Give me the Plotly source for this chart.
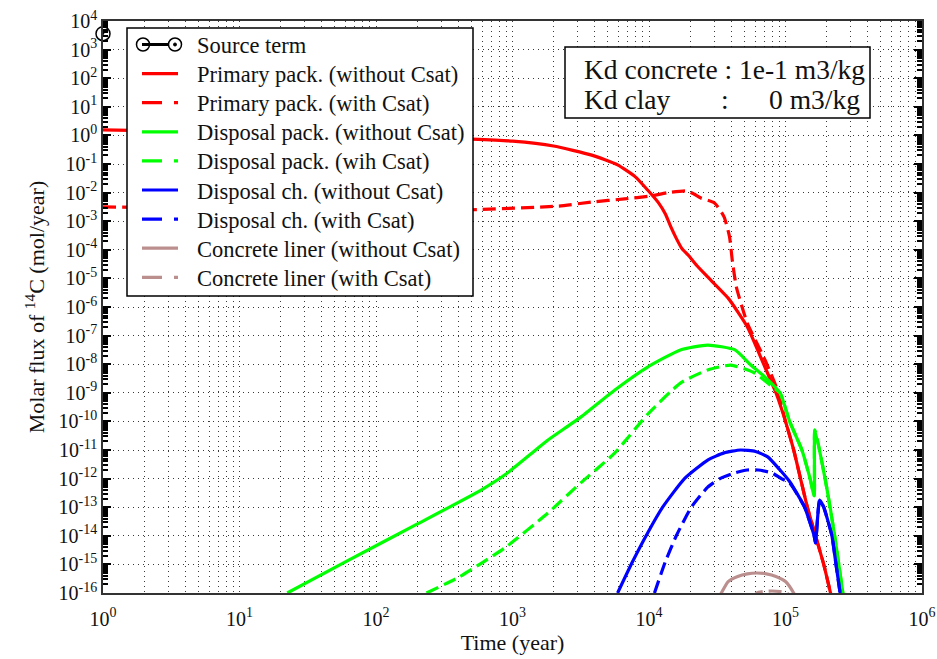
import numpy as np
import plotly.graph_objects as go

# ---- data (log10 of time in years, log10 of molar flux in mol/year) ----
source_t = [1.0]
source_f = [3.6e3]

pp_no_csat_logt = [0, 0.5, 1.0, 1.5, 2.0, 2.7, 3.0, 3.3, 3.58, 3.77, 3.90, 3.99, 4.07, 4.12,
                   4.16, 4.20, 4.24, 4.29, 4.35, 4.43, 4.58, 4.72, 4.84, 4.93, 5.0, 5.06,
                   5.11, 5.16, 5.22, 5.28, 5.33, 5.36]
pp_no_csat_logf = [0.19, 0.15, 0.10, 0.04, -0.03, -0.13, -0.2, -0.37, -0.69, -1.03, -1.45,
                   -1.91, -2.36, -2.75, -3.2, -3.6, -3.95, -4.2, -4.55, -4.95, -5.69, -6.69,
                   -8.0, -9.0, -10.0, -11.0, -12.0, -13.0, -14.0, -15.0, -16.0, -16.6]

pp_csat_logt = [0, 0.5, 1.0, 1.5, 2.0, 2.7, 3.34, 3.58, 3.82, 4.01, 4.14, 4.28, 4.33, 4.38,
                4.48, 4.55, 4.59, 4.61, 4.64, 4.72, 4.85, 4.94, 5.0, 5.06, 5.11, 5.16, 5.22,
                5.28, 5.33, 5.36]
pp_csat_logf = [-2.5, -2.53, -2.56, -2.58, -2.6, -2.6, -2.47, -2.33, -2.22, -2.12, -2.0,
                -1.94, -2.05, -2.19, -2.36, -2.85, -3.55, -4.36, -5.3, -6.56, -7.85, -8.9,
                -10.0, -11.0, -12.0, -13.0, -14.0, -15.0, -16.0, -16.6]

dp_no_csat_logt = [1.35, 1.80, 2.29, 2.77, 2.95, 3.17, 3.26, 3.50, 3.75, 3.99, 4.23, 4.43,
                   4.63, 4.74, 4.85, 4.96, 5.03, 5.12, 5.18, 5.21, 5.215, 5.29, 5.36, 5.42, 5.45]
dp_no_csat_logf = [-16.0, -14.85, -13.62, -12.4, -11.85, -11.0, -10.65, -9.85, -8.9, -8.1,
                   -7.5, -7.33, -7.5, -8.0, -8.45, -9.0, -10.0, -11.0, -12.0, -12.6, -10.3,
                   -12.0, -14.0, -16.0, -17.0]

dp_csat_logt = [2.37, 2.61, 2.95, 3.26, 3.50, 3.75, 3.99, 4.23, 4.43, 4.60, 4.77, 4.92,
                4.96, 5.03, 5.12, 5.18, 5.21, 5.215, 5.29, 5.36, 5.42, 5.45]
dp_csat_logf = [-16.0, -15.44, -14.4, -13.2, -12.15, -11.1, -9.75, -8.66, -8.2, -8.03, -8.3,
                -8.85, -9.0, -10.0, -11.0, -12.0, -12.6, -10.3, -12.0, -14.0, -16.0, -17.0]

dc_no_csat_logt = [3.77, 3.88, 3.99, 4.10, 4.26, 4.43, 4.55, 4.67, 4.78, 4.87, 4.96, 5.03,
                   5.14, 5.21, 5.22, 5.25, 5.28, 5.34, 5.37, 5.40, 5.42]
dc_no_csat_logf = [-16.0, -14.9, -13.9, -13.0, -12.0, -11.35, -11.1, -11.0, -11.05, -11.24,
                   -11.7, -12.1, -13.0, -14.0, -14.25, -12.75, -13.0, -14.0, -15.0, -16.0, -16.8]

dc_csat_logt = [4.04, 4.12, 4.20, 4.31, 4.43, 4.52, 4.63, 4.72, 4.80, 4.90, 4.97, 5.03,
                5.14, 5.21, 5.22, 5.25, 5.28, 5.34, 5.37, 5.40, 5.42]
dc_csat_logf = [-16.0, -14.9, -14.0, -13.0, -12.3, -12.0, -11.8, -11.7, -11.7, -11.8, -12.0,
                -12.15, -13.0, -14.0, -14.25, -12.75, -13.0, -14.0, -15.0, -16.0, -16.8]

cl_no_csat_logt = [4.50, 4.53, 4.58, 4.65, 4.72, 4.79, 4.86, 4.93, 5.0, 5.06, 5.09]
cl_no_csat_logf = [-16.3, -16.0, -15.6, -15.42, -15.33, -15.3, -15.33, -15.42, -15.6, -16.0, -16.3]

cl_csat_logt = [4.76, 4.79, 4.84, 4.90, 4.96, 5.01, 5.04]
cl_csat_logf = [-16.2, -16.0, -15.95, -15.93, -15.95, -16.0, -16.2]

x_tick_exponents = [0, 1, 2, 3, 4, 5, 6]
y_tick_exponents = list(range(-16, 5))

FONT = "Liberation Serif"
TEXT = "#111"
RED, GREEN, BLUE, BROWN = "#ff0000", "#00ff00", "#0000ff", "#bc8f8f"
CURVE_DASH = "13px,6px"
KEY_DASH = "20px,12px,4px,10px"
GRID_DASH = "1px,4px"
GRID_COLOR = "#3a3a3a"

series = [
    ("Primary pack. (without Csat)", pp_no_csat_logt, pp_no_csat_logf, RED, False),
    ("Primary pack. (with Csat)", pp_csat_logt, pp_csat_logf, RED, True),
    ("Disposal pack. (without Csat)", dp_no_csat_logt, dp_no_csat_logf, GREEN, False),
    ("Disposal pack. (wih Csat)", dp_csat_logt, dp_csat_logf, GREEN, True),
    ("Disposal ch. (without Csat)", dc_no_csat_logt, dc_no_csat_logf, BLUE, False),
    ("Disposal ch. (with Csat)", dc_csat_logt, dc_csat_logf, BLUE, True),
    ("Concrete liner (without Csat)", cl_no_csat_logt, cl_no_csat_logf, BROWN, False),
    ("Concrete liner (with Csat)", cl_csat_logt, cl_csat_logf, BROWN, True),
]

# figure / plot-area geometry in pixels
W, H = 937, 659
ML, MR, MT, MB = 103, 15, 21, 66
PW, PH = W - ML - MR, H - MT - MB


def pxx(x):
    """pixel column -> paper x"""
    return (x - ML) / PW


def pxy(y):
    """pixel row -> paper y"""
    return (H - MB - y) / PH


fig = go.Figure()
fig.add_trace(go.Scatter(
    x=source_t, y=source_f, name="Source term", mode="lines+markers",
    line=dict(color="black", width=2.5),
    marker=dict(symbol="circle-open-dot", size=14, color="black", line=dict(width=1.5)),
    cliponaxis=False, showlegend=False,
))
for name, lt, lf, color, dashed in series:
    fig.add_trace(go.Scatter(
        x=10.0 ** np.array(lt), y=10.0 ** np.array(lf), name=name, mode="lines",
        line=dict(color=color, width=3.2, dash=CURVE_DASH if dashed else "solid",
                  shape="spline", smoothing=0.5),
        showlegend=False,
    ))

minor_x = [k * 10.0 ** n for n in range(0, 6) for k in range(2, 10)]
minor_y = [k * 10.0 ** n for n in range(-16, 4) for k in range(2, 10)]

fig.update_xaxes(
    type="log", range=[0, 6], automargin=False,
    tickmode="array",
    tickvals=[10.0 ** e for e in x_tick_exponents],
    ticktext=[f"10<sup>{e}</sup>" for e in x_tick_exponents],
    tickfont=dict(family=FONT, size=20, color=TEXT),
    ticklabelstandoff=7,
    showline=True, linecolor="#333", linewidth=1.5, mirror=True,
    ticks="", showgrid=True, gridcolor=GRID_COLOR, griddash=GRID_DASH, gridwidth=1,
    minor=dict(tickvals=minor_x, showgrid=True, gridcolor=GRID_COLOR, griddash=GRID_DASH,
               gridwidth=1, ticks=""),
    zeroline=False,
    title=dict(text="Time (year)", font=dict(family=FONT, size=22, color=TEXT), standoff=6),
)
fig.update_yaxes(
    type="log", range=[-16, 4], automargin=False,
    tickmode="array",
    tickvals=[10.0 ** e for e in y_tick_exponents],
    ticktext=[f"10<sup>{e}</sup>" for e in y_tick_exponents],
    tickfont=dict(family=FONT, size=20, color=TEXT),
    showline=True, linecolor="#333", linewidth=1.5, mirror="ticks",
    ticks="inside", ticklen=8, tickwidth=2, tickcolor="black",
    showgrid=True, gridcolor=GRID_COLOR, griddash=GRID_DASH, gridwidth=1,
    minor=dict(tickvals=minor_y, ticks="inside", ticklen=5, tickwidth=1.5,
               tickcolor="black", showgrid=False),
    zeroline=False,
    title=dict(text="Molar flux of <sup>14</sup>C (mol/year)",
               font=dict(family=FONT, size=22, color=TEXT), standoff=8),
)

# ---- key box (drawn as shapes + text so the row pitch stays compact) ----
shapes = []
annots = []
KEY_L, KEY_R, KEY_T, KEY_B = 127, 473, 28, 296
ROW0, ROW_STEP = 44.5, 29.1
SAMPLE_L, SAMPLE_R, LABEL_X = 142, 178, 195

shapes.append(dict(type="rect", xref="paper", yref="paper", layer="above",
                   x0=pxx(KEY_L), x1=pxx(KEY_R), y0=pxy(KEY_B), y1=pxy(KEY_T),
                   line=dict(color="black", width=1.5), fillcolor="white"))

key_rows = [("Source term", "black", None)] + [(s[0], s[3], s[4]) for s in series]
for i, (label, color, dashed) in enumerate(key_rows):
    yc = ROW0 + i * ROW_STEP
    if dashed is None:
        # line with open circle, then circle-with-dot marker
        shapes.append(dict(type="line", xref="paper", yref="paper", layer="above",
                           x0=pxx(SAMPLE_L), x1=pxx(168), y0=pxy(yc), y1=pxy(yc),
                           line=dict(color="black", width=3)))
        for cx in (SAMPLE_L + 1, 175):
            shapes.append(dict(type="circle", xref="paper", yref="paper", layer="above",
                               x0=pxx(cx - 6.5), x1=pxx(cx + 6.5),
                               y0=pxy(yc + 6.5), y1=pxy(yc - 6.5),
                               line=dict(color="black", width=1.5),
                               fillcolor="rgba(0,0,0,0)"))
        shapes.append(dict(type="circle", xref="paper", yref="paper", layer="above",
                           x0=pxx(173.5), x1=pxx(176.5), y0=pxy(yc + 1.5), y1=pxy(yc - 1.5),
                           line=dict(color="black", width=1), fillcolor="black"))
    else:
        shapes.append(dict(type="line", xref="paper", yref="paper", layer="above",
                           x0=pxx(SAMPLE_L), x1=pxx(SAMPLE_R), y0=pxy(yc), y1=pxy(yc),
                           line=dict(color=color, width=3.2,
                                     dash=KEY_DASH if dashed else "solid")))
    annots.append(dict(xref="paper", yref="paper", x=pxx(LABEL_X), y=pxy(yc + 1),
                       xanchor="left", yanchor="middle", showarrow=False, text=label,
                       font=dict(family=FONT, size=22.5, color=TEXT)))

# ---- Kd parameter box ----
shapes.append(dict(type="rect", xref="paper", yref="paper", layer="above",
                   x0=pxx(565), x1=pxx(870), y0=pxy(118), y1=pxy(47),
                   line=dict(color="black", width=1.5), fillcolor="white"))
kd_font = dict(family=FONT, size=27.5, color=TEXT)
for text, x, anchor, y in [
    ("Kd concrete : 1e-1 m3/kg", 582, "left", 70),
    ("Kd clay", 582, "left", 99),
    (":", 725, "center", 99),
    ("0 m3/kg", 862, "right", 99),
]:
    annots.append(dict(xref="paper", yref="paper", x=pxx(x), y=pxy(y),
                       xanchor=anchor, yanchor="middle", showarrow=False,
                       text=text, font=kd_font))

fig.update_layout(
    width=W, height=H,
    margin=dict(l=ML, r=MR, t=MT, b=MB),
    paper_bgcolor="white", plot_bgcolor="white",
    font=dict(family=FONT, color=TEXT),
    showlegend=False,
    shapes=shapes,
    annotations=annots,
)

fig.write_html("out.html")
